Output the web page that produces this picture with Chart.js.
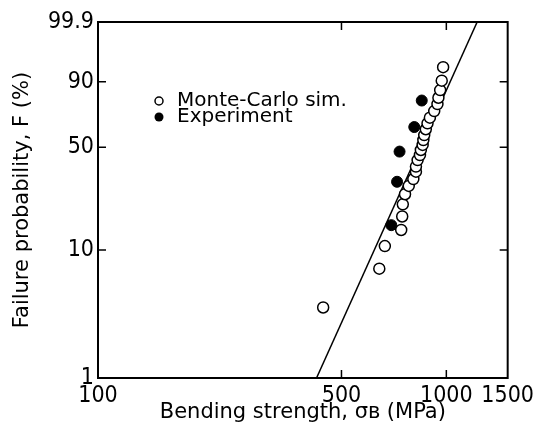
<!DOCTYPE html>
<html>
<head>
<meta charset="utf-8">
<script src="https://cdn.jsdelivr.net/npm/chart.js@4"></script>
<style>
  html, body { margin: 0; padding: 0; background: #fff; }
  #wrap { width: 538px; height: 435px; }
</style>
</head>
<body>
<div id="wrap"><canvas id="weibullChart" width="538" height="435"></canvas></div>
<script>
// tick labels
const xTicks = [100, 500, 1000, 1500];
const yTicksF = [1, 10, 50, 90, 99.9];

// Monte-Carlo simulation: bending strength (MPa) and failure probability (%)
const mcSigma = [443, 642, 666, 742, 747, 750, 761, 780, 804, 818, 818, 827, 840, 845, 855, 859, 864, 873, 883, 897, 923, 943, 949, 960, 970, 979];
const mcF = [3.6, 7.2, 10.7, 14.1, 17.7, 21.6, 25.4, 28.9, 32.1, 35.8, 38.5, 42.2, 45.2, 48.3, 51.5, 54.7, 58.0, 61.9, 65.9, 69.7, 74.0, 78.4, 82.1, 86.2, 90.5, 95.1];

// Experiment
const expSigma = [695, 722, 734, 809, 850];
const expF = [15.3, 30.8, 47.3, 63.4, 80.5];

// fitted Weibull line (end points)
const fitSigma = [424, 1226];
const fitF = [1, 99.9];

const FONT = "'DejaVu Sans', sans-serif";
const TICK_FONT = "'Liberation Sans Narrow', 'DejaVu Sans Condensed', sans-serif";

// Weibull probability scale: ln(-ln(1-F))
function weib(F) {
    return Math.log(-Math.log(1 - F / 100));
}

function toPoints(xs, fs) {
    return xs.map((s, i) => ({ x: s, y: weib(fs[i]) }));
}

const framePlugin = {
    id: "frame",
    afterDraw(chart) {
        const { ctx, chartArea: a, scales } = chart;
        const x = scales.x, y = scales.y;
        ctx.save();
        ctx.strokeStyle = "#000";
        ctx.lineWidth = 2;
        ctx.strokeRect(a.left, a.top, a.width, a.height);

        ctx.lineWidth = 1.5;
        ctx.beginPath();
        xTicks.slice(1, -1).forEach(v => {
            const px = x.getPixelForValue(v);
            ctx.moveTo(px, a.bottom); ctx.lineTo(px, a.bottom - 8);
            ctx.moveTo(px, a.top); ctx.lineTo(px, a.top + 8);
        });
        yTicksF.slice(1, -1).forEach(f => {
            const py = y.getPixelForValue(weib(f));
            ctx.moveTo(a.left, py); ctx.lineTo(a.left + 8, py);
            ctx.moveTo(a.right, py); ctx.lineTo(a.right - 8, py);
        });
        ctx.stroke();

        // legend
        const lx = a.left + 61, ly = a.top + 79;
        ctx.lineWidth = 1.5;
        ctx.beginPath();
        ctx.arc(lx, ly, 4, 0, Math.PI * 2);
        ctx.stroke();
        ctx.fillStyle = "#000";
        ctx.beginPath();
        ctx.arc(lx, ly + 16, 4.5, 0, Math.PI * 2);
        ctx.fill();
        ctx.font = "20px " + FONT;
        ctx.textBaseline = "middle";
        ctx.fillText("Monte-Carlo sim.", lx + 18, ly);
        ctx.fillText("Experiment", lx + 18, ly + 16);
        ctx.restore();
    }
};

const ctx = document.getElementById("weibullChart");

new Chart(ctx, {
    type: "scatter",
    data: {
        datasets: [
            {
                label: "Monte-Carlo sim.",
                data: toPoints(mcSigma, mcF),
                pointRadius: 5.5,
                pointBorderWidth: 1.5,
                pointBorderColor: "#000",
                pointBackgroundColor: "#fff"
            },
            {
                label: "Experiment",
                data: toPoints(expSigma, expF),
                pointRadius: 5.5,
                pointBorderWidth: 1,
                pointBorderColor: "#000",
                pointBackgroundColor: "#000"
            },
            {
                label: "fit",
                type: "line",
                data: toPoints(fitSigma, fitF),
                borderColor: "#000",
                borderWidth: 1.5,
                pointRadius: 0,
                fill: false
            }
        ]
    },
    options: {
        responsive: false,
        animation: false,
        layout: { padding: { top: 22, right: 27, left: 0, bottom: 0 } },
        plugins: {
            legend: { display: false },
            tooltip: { enabled: false }
        },
        scales: {
            x: {
                type: "logarithmic",
                min: 100,
                max: 1500,
                grid: { display: false, drawTicks: false },
                border: { display: false },
                afterBuildTicks: scale => {
                    scale.ticks = xTicks.map(v => ({ value: v }));
                },
                afterFit: scale => { scale.height = 57; },
                ticks: {
                    padding: 4,
                    maxRotation: 0,
                    autoSkip: false,
                    color: "#000",
                    font: { family: TICK_FONT, size: 23 },
                    callback: v => String(v)
                },
                title: {
                    display: true,
                    text: "Bending strength, σʙ (MPa)",
                    color: "#000",
                    font: { family: FONT, size: 21 },
                    padding: { top: 0, bottom: 10 }
                }
            },
            y: {
                type: "linear",
                min: weib(yTicksF[0]),
                max: weib(yTicksF[yTicksF.length - 1]),
                grid: { display: false, drawTicks: false },
                border: { display: false },
                afterBuildTicks: scale => {
                    scale.ticks = yTicksF.map(f => ({ value: weib(f) }));
                },
                afterFit: scale => { scale.width = 98; },
                ticks: {
                    padding: 4,
                    autoSkip: false,
                    color: "#000",
                    font: { family: TICK_FONT, size: 23 },
                    callback: (v, i) => String(yTicksF[i])
                },
                title: {
                    display: true,
                    text: "Failure probability, F (%)",
                    color: "#000",
                    font: { family: FONT, size: 21 },
                    padding: { top: 10, bottom: 0 }
                }
            }
        }
    },
    plugins: [framePlugin]
});
</script>
</body>
</html>
